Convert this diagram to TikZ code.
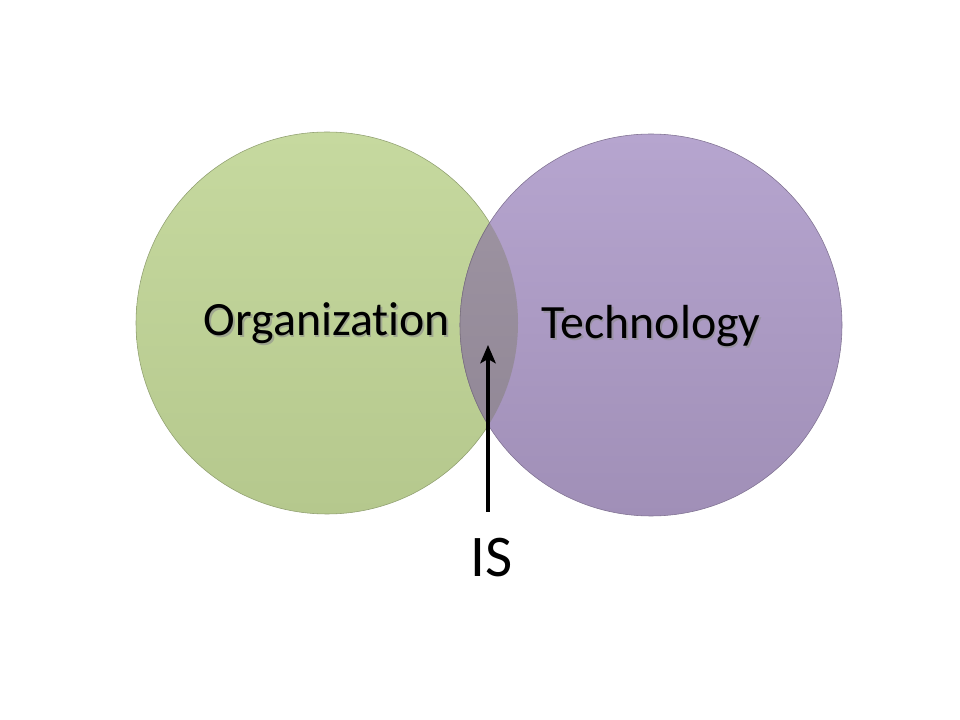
\documentclass[tikz,border=0pt]{standalone}
\usepackage{fontspec}
\setmainfont{Carlito}[Ligatures=NoCommon]
\usetikzlibrary{calc,arrows.meta}
\definecolor{orgTop}{RGB}{198,217,159}
\definecolor{orgBottom}{RGB}{181,200,141}
\definecolor{techTop}{RGB}{182,165,207}
\definecolor{techBottom}{RGB}{160,143,183}
\definecolor{isTop}{RGB}{160,150,164}
\definecolor{isBottom}{RGB}{142,132,147}

\begin{document}
\begin{tikzpicture}[x=0.025cm, y=-0.025cm,
    label text/.style={font=\fontsize{34}{40}\selectfont, text=black},
    label shadow/.style={font=\fontsize{34}{40}\selectfont, text=black!45, opacity=0.6}]
  \useasboundingbox (0,0) rectangle (960,720);
  \coordinate (pOrg) at (327,323);
  \coordinate (pTech) at (651,325);
  % the two sets
  \shade[top color=orgTop, bottom color=orgBottom, draw=orgBottom!80!black, line width=0.4pt]
    (pOrg) circle [radius=191];
  \shade[top color=techTop, bottom color=techBottom, draw=techBottom!80!black, line width=0.4pt]
    (pTech) circle [radius=191];
  % overlap
  \begin{scope}
    \clip (pOrg) circle [radius=191];
    \shade[top color=isTop, bottom color=isBottom, draw=isBottom!85!black, line width=0.4pt]
      (pTech) circle [radius=191];
  \end{scope}
  % labels
  \node[label shadow] (orgShadow) at ($(pOrg)+(1.5,2)$) {Organization};
  \node[label text] (orgLabel) at (pOrg) {Organization};
  \node[label shadow] (techShadow) at ($(pTech)+(1.5,3)$) {Technology};
  \node[label text] (techLabel) at ($(pTech)+(0,1)$) {Technology};
  \node[font=\fontsize{42}{48}\selectfont] (isLabel) at (492,558) {IS};
  \coordinate (pTail) at (488,512);
  \coordinate (pTip) at (488,345);
  \draw[line width=2.2pt, -{Stealth[length=13pt, width=11pt, inset=3pt]}] (pTail) -- (pTip);
\end{tikzpicture}
\end{document}
